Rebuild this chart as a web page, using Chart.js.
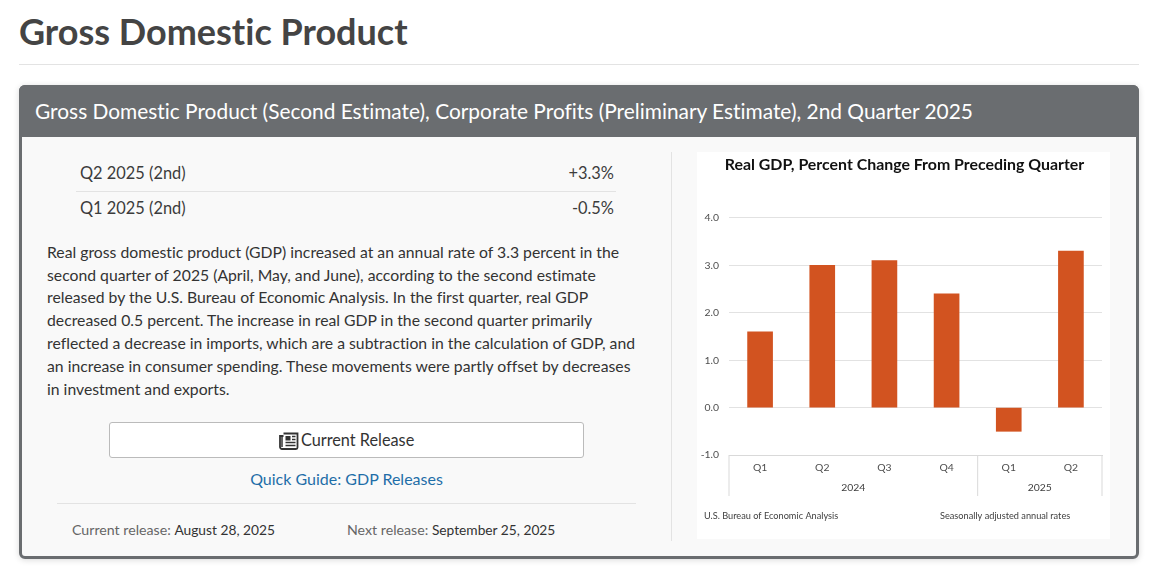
<!DOCTYPE html>
<html>
<head>
<meta charset="utf-8">
<title>Gross Domestic Product</title>
<script src="https://cdn.jsdelivr.net/npm/chart.js@4"></script>
<style>
  html, body { margin: 0; padding: 0; background: #fff; }
  body { width: 1151px; height: 572px; position: relative; overflow: hidden; font-family: Lato, sans-serif; color: #333; font-variant-ligatures: none; }
  .abs { position: absolute; white-space: nowrap; }
  h1 { position: absolute; left: 19px; top: 10px; margin: 0; font-size: 36px; line-height: 42px; font-weight: 700; color: #444; white-space: nowrap; }
  .rule { position: absolute; height: 1px; background: #e3e3e3; }
  .card { position: absolute; left: 19px; top: 85px; width: 1114px; height: 468px; border: 3px solid #6a6d70; border-radius: 6px; background: #f9f9f9; box-shadow: 0 1px 6px rgba(0,0,0,.15); }
  .head { position: absolute; left: 19px; top: 85px; width: 1120px; height: 52px; background: #6a6d70; border-radius: 6px 6px 0 0; }
  .head span { position: absolute; left: 16px; top: 12px; font-size: 20.88px; line-height: 27px; color: #fff; white-space: nowrap; }
  .stat { font-size: 16.4px; line-height: 22px; color: #3c3c3c; }
  .para { position: absolute; left: 47px; top: 240.9px; font-size: 15.75px; line-height: 22.8px; color: #333; white-space: nowrap; }
  .btn { position: absolute; left: 109px; top: 422px; width: 473px; height: 34px; border: 1px solid #bbb; border-radius: 3px; background: #fff; font-size: 16.3px; line-height: 34px; text-align: center; color: #333; }
  .btn svg { vertical-align: -4px; }
  .btn span { margin-left: -2px; }
  .link { position: absolute; left: 109px; width: 475px; top: 468px; text-align: center; font-size: 16px; line-height: 22px; color: #1f6ea8; }
  .rel { font-size: 14.2px; line-height: 20px; color: #666; }
  .rel b { font-weight: 400; font-size: 13.75px; color: #333; }
  #wrap { position: absolute; left: 697px; top: 152px; width: 413px; height: 387px; background: #fff; }
</style>
</head>
<body>
<h1>Gross Domestic Product</h1>
<div class="rule" style="left:19px;top:64px;width:1120px"></div>
<div class="card"></div>
<div class="head"><span>Gross Domestic Product (Second Estimate), Corporate Profits (Preliminary Estimate), 2nd Quarter 2025</span></div>

<div class="abs stat" style="left:80px;top:161.5px">Q2 2025 (2nd)</div>
<div class="abs stat" style="right:537px;top:161.5px">+3.3%</div>
<div class="rule" style="left:76px;top:191px;width:540px"></div>
<div class="abs stat" style="left:80px;top:196.5px">Q1 2025 (2nd)</div>
<div class="abs stat" style="right:537px;top:196.5px">-0.5%</div>

<div class="para">Real gross domestic product (GDP) increased at an annual rate of 3.3 percent in the<br>second quarter of 2025 (April, May, and June), according to the second estimate<br>released by the U.S. Bureau of Economic Analysis. In the first quarter, real GDP<br>decreased 0.5 percent. The increase in real GDP in the second quarter primarily<br>reflected a decrease in imports, which are a subtraction in the calculation of GDP, and<br>an increase in consumer spending. These movements were partly offset by decreases<br>in investment and exports.</div>

<div class="btn"><svg width="20" height="18" viewBox="0 0 20 18"><path d="M4.5 1.5h14v14a1.5 1.5 0 0 1-1.5 1.5H3a2 2 0 0 1-2-2V4h3.5" fill="none" stroke="#333" stroke-width="1.8"/><path d="M3 4v11" stroke="#333" stroke-width="1.5"/><rect x="6.5" y="4" width="5" height="4.5" fill="#333"/><path d="M13 4.6h3.5M13 7.6h3.5M6.5 10.6h10M6.5 13.6h10" stroke="#333" stroke-width="1.5"/></svg> <span>Current Release</span></div>
<div class="link">Quick Guide: GDP Releases</div>
<div class="rule" style="left:57px;top:503px;width:579px"></div>
<div class="abs rel" style="left:72px;top:520px">Current release: <b>August 28, 2025</b></div>
<div class="abs rel" style="left:347px;top:520px">Next release: <b>September 25, 2025</b></div>
<div class="rule" style="left:671px;top:152px;width:1px;height:389px"></div>

<div id="wrap"><canvas id="gdpChart" width="413" height="387" style="width:413px;height:387px;display:block"></canvas></div>

<script>
const quarters = ["Q1", "Q2", "Q3", "Q4", "Q1", "Q2"];
const gdpChange = [1.6, 3.0, 3.1, 2.4, -0.5, 3.3];
const years = ["2024", "2025"];
const quartersPerYear = [4, 2];
const yTicks = [-1, 0, 1, 2, 3, 4];
const chartTitle = "Real GDP, Percent Change From Preceding Quarter";
const sourceNote = "U.S. Bureau of Economic Analysis";
const ratesNote = "Seasonally adjusted annual rates";

const AXIS_COLOR = "#d9d9d9";

// year row under the quarter labels, with the separators between years
const yearRow = {
  id: "yearRow",
  afterDraw(chart) {
    const { ctx, scales } = chart;
    const x = scales.x;
    const top = chart.chartArea.bottom;
    const bottom = top + 41;
    const step = x.getPixelForValue(1) - x.getPixelForValue(0);
    let start = 0;

    ctx.save();
    ctx.strokeStyle = AXIS_COLOR;
    ctx.lineWidth = 1;
    ctx.fillStyle = "#404040";
    ctx.font = "10.4px Lato, sans-serif";
    ctx.textAlign = "center";
    ctx.textBaseline = "middle";

    const edge = (px) => {
      ctx.beginPath();
      ctx.moveTo(px, top);
      ctx.lineTo(px, bottom);
      ctx.stroke();
    };

    edge(x.getPixelForValue(0) - step / 2);
    years.forEach((year, i) => {
      const first = x.getPixelForValue(start) - step / 2;
      const last = x.getPixelForValue(start + quartersPerYear[i] - 1) + step / 2;
      edge(last);
      ctx.fillText(year, (first + last) / 2, top + 33);
      start += quartersPerYear[i];
    });

    // footnotes
    ctx.fillStyle = "#404040";
    ctx.font = "9.2px Lato, sans-serif";
    ctx.textAlign = "left";
    ctx.fillText(sourceNote, 7, 364.5);
    ctx.fillText(ratesNote, 243, 364.5);
    ctx.restore();
  },
};

new Chart(document.getElementById("gdpChart").getContext("2d"), {
  type: "bar",
  data: {
    labels: quarters,
    datasets: [
      {
        label: "Real GDP",
        data: gdpChange,
        backgroundColor: "#d25320",
        barThickness: 25,
      },
    ],
  },
  options: {
    responsive: false,
    animation: false,
    layout: { padding: { top: 0, right: 0, bottom: 0, left: 2 } },
    scales: {
      y: {
        min: -1,
        max: 4,
        afterBuildTicks(axis) {
          axis.ticks = yTicks.map((value) => ({ value }));
        },
        afterFit(axis) {
          axis.width = 30;
        },
        border: { display: false },
        grid: { color: "#e2e2e2", drawTicks: false },
        ticks: {
          padding: 10,
          color: "#4d4d4d",
          font: { family: "Lato, sans-serif", size: 10.4 },
          callback: (value) => value.toFixed(1),
        },
      },
      // empty axis, only keeps the right margin without moving the title
      yRight: {
        position: "right",
        min: -1,
        max: 4,
        afterFit(axis) {
          axis.width = 8;
        },
        border: { display: false },
        grid: { display: false },
        ticks: { display: false },
      },
      x: {
        afterFit(axis) {
          axis.height = 84;
        },
        border: { display: true, color: AXIS_COLOR },
        grid: { display: false, drawTicks: false },
        ticks: {
          padding: 6,
          color: "#4d4d4d",
          maxRotation: 0,
          font: { family: "Lato, sans-serif", size: 10.4 },
        },
      },
    },
    plugins: {
      legend: { display: false },
      tooltip: { enabled: false },
      title: {
        display: true,
        text: chartTitle,
        color: "#111",
        font: { family: "Lato, sans-serif", size: 15.9, weight: "bold" },
        padding: { top: 3.5, bottom: 43.4 },
      },
    },
  },
  plugins: [yearRow],
});
</script>
</body>
</html>
